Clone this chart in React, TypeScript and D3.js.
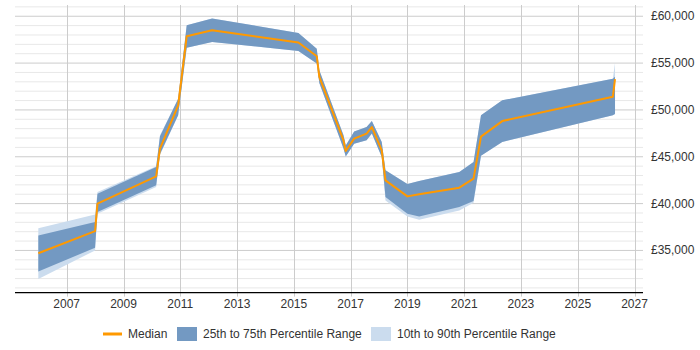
import React from "react";
import * as d3 from "d3";

// Sample dates for the salary series
const dates = [
  "2006-01-01", "2008-01-01", "2008-02-01", "2010-02-25", "2010-04-15",
  "2010-12-05", "2011-03-25", "2012-02-15", "2015-03-01", "2015-10-23",
  "2015-11-25", "2016-10-01", "2016-10-30", "2017-02-15", "2017-07-25",
  "2017-10-01", "2018-02-05", "2018-03-25", "2019-01-01", "2019-06-01",
  "2020-10-30", "2021-05-01", "2021-08-05", "2022-05-05", "2026-03-28",
  "2026-04-25",
];

const median = [
  34700, 37060, 39990, 42900, 45860, 50490, 57860, 58500, 57190, 55730,
  53520, 46750, 45610, 46930, 47470, 48170, 45680, 42480, 40770, 41000,
  41700, 42660, 47150, 48810, 51400, 53300,
];

const p25 = [
  32750, 35290, 39100, 41950, 45300, 49420, 56650, 57250, 56300, 54950,
  52870, 45870, 45040, 46400, 46750, 47470, 44970, 40700, 38920, 38630,
  39630, 40270, 45100, 46580, 49420, 49600,
];

const p75 = [
  36600, 38030, 41060, 43900, 47200, 51200, 59040, 59750, 58220, 56540,
  54230, 47290, 46200, 47710, 48170, 48810, 46580, 43550, 42100, 42400,
  43370, 44440, 49420, 51030, 53340, 53550,
];

const p10 = [
  31950, 35000, 38920, 41760, 45200, 49420, 56650, 57250, 56300, 54950,
  52870, 45870, 45040, 46400, 46750, 47470, 44970, 40340, 38630, 38280,
  39270, 40100, 45100, 46580, 49420, 49500,
];

const p90 = [
  37380, 38850, 41230, 44000, 47300, 51200, 59040, 59750, 58220, 56540,
  54230, 47290, 46200, 47710, 48170, 48810, 46580, 43550, 42100, 42400,
  43370, 44440, 49420, 51030, 53340, 55000,
];

const yTicks = [35000, 40000, 45000, 50000, 55000, 60000];
const xTickYears = [2007, 2009, 2011, 2013, 2015, 2017, 2019, 2021, 2023, 2025, 2027];

const legendItems = [
  { label: "Median", kind: "line", color: "#ff9900" },
  { label: "25th to 75th Percentile Range", kind: "box", color: "#7399c2" },
  { label: "10th to 90th Percentile Range", kind: "box", color: "#cbdcee" },
];

const W = 700;
const H = 350;
const FONT = "'Liberation Sans', Arial, sans-serif";

export default function App() {
  const parse = d3.timeParse("%Y-%m-%d");
  const rows = dates.map((d, i) => ({
    date: parse(d) as Date,
    med: median[i],
    lo25: p25[i],
    hi75: p75[i],
    lo10: p10[i],
    hi90: p90[i],
  }));

  const left = 15;
  const right = 643;
  const top = 5;
  const bottom = 292.6;

  const x = d3
    .scaleTime()
    .domain([new Date(2005, 2, 7), new Date(2027, 3, 20)])
    .range([left, right]);
  const y = d3.scaleLinear().domain([30500, 61200]).range([bottom, top]);

  const outer = d3
    .area<any>()
    .x((d) => x(d.date))
    .y0((d) => y(d.lo10))
    .y1((d) => y(d.hi90));
  const inner = d3
    .area<any>()
    .x((d) => x(d.date))
    .y0((d) => y(d.lo25))
    .y1((d) => y(d.hi75));
  const line = d3
    .line<any>()
    .x((d) => x(d.date))
    .y((d) => y(d.med));

  const minor = d3.range(31000, 61001, 1000);

  // legend layout
  const legendY = 334;
  const legendX = [103, 177, 371];

  return (
    <svg width={W} height={H} style={{ position: "absolute", left: 0, top: 0 }}>
      <rect x={0} y={0} width={W} height={H} fill="#fff" />
      {minor.map((v) => (
        <line
          key={"m" + v}
          x1={left}
          x2={right}
          y1={y(v)}
          y2={y(v)}
          stroke={v % 5000 === 0 ? "#cccccc" : "#e8e8e8"}
          strokeWidth={1}
        />
      ))}
      {xTickYears.map((yr) => {
        const xx = Math.round(x(new Date(yr, 0, 1))) + 0.5;
        return (
          <line key={"v" + yr} x1={xx} x2={xx} y1={top} y2={bottom + 4} stroke="#cccccc" strokeWidth={1} />
        );
      })}
      <path d={outer(rows) || ""} fill="#cbdcee" />
      <path d={inner(rows) || ""} fill="#7399c2" />
      <path d={line(rows) || ""} fill="none" stroke="#ff9900" strokeWidth={2} strokeLinejoin="round" />
      <line x1={left} x2={right} y1={bottom} y2={bottom} stroke="#000" strokeWidth={1.2} />
      {xTickYears.map((yr) => (
        <text
          key={"t" + yr}
          x={x(new Date(yr, 0, 1))}
          y={308}
          textAnchor="middle"
          fontFamily={FONT}
          fontSize={12}
          fill="#333"
        >
          {yr}
        </text>
      ))}
      {yTicks.map((v) => (
        <text
          key={"y" + v}
          x={651}
          y={y(v) + 4}
          fontFamily={FONT}
          fontSize={12}
          fill="#333"
        >
          {"£" + d3.format(",")(v)}
        </text>
      ))}
      {legendItems.map((it, i) => (
        <g key={it.label}>
          {it.kind === "line" ? (
            <line
              x1={legendX[i]}
              x2={legendX[i] + 19}
              y1={legendY}
              y2={legendY}
              stroke={it.color}
              strokeWidth={3}
            />
          ) : (
            <rect x={legendX[i]} y={legendY - 7} width={20} height={14} fill={it.color} />
          )}
          <text
            x={legendX[i] + (it.kind === "line" ? 25 : 26)}
            y={legendY + 4}
            fontFamily={FONT}
            fontSize={12}
            fill="#333"
          >
            {it.label}
          </text>
        </g>
      ))}
    </svg>
  );
}
